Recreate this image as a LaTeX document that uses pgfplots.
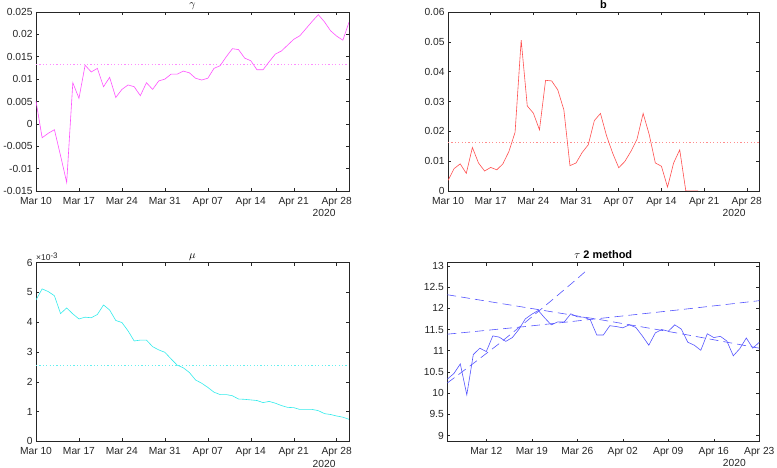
\documentclass[border=0pt]{standalone}
\usepackage{fontspec}
\setmainfont{Liberation Sans}
\usepackage{pgfplots}
\pgfplotsset{compat=1.18}

\definecolor{axgray}{gray}{0.15}
\definecolor{cmag}{RGB}{255,80,255}
\definecolor{cred}{RGB}{255,80,80}
\definecolor{ccyan}{RGB}{50,235,235}
\definecolor{cblue}{RGB}{85,85,255}

\pgfplotsset{
  mstyle/.style={
    scale only axis,
    anchor=south west,
    axis line style={axgray, line width=0.5bp},
    tick style={axgray, line width=0.5bp},
    major tick length=3bp,
    tick align=inside,
    ticklabel style={font=\fontsize{10.3}{12}\selectfont, text=axgray},
    xticklabel style={yshift=-2.5bp},
    /pgf/number format/assume math mode=true,
    scaled y ticks=false,
    scaled x ticks=false,
    every axis title shift=0pt,
    title style={at={(0.5,1)}, anchor=base, yshift=4bp, font=\fontsize{11}{13}\selectfont\bfseries, text=black},
    every axis plot/.append style={line width=0.6bp},
  },
  datex/.style={
    xmin=0, xmax=51,
    xtick={0,7,...,49},
    xticklabels={Mar 10,Mar 17,Mar 24,Mar 31,Apr 07,Apr 14,Apr 21,Apr 28},
  },
  yrlabel/.style={
    extra description/.code={
      \node[anchor=east, xshift=-10bp, yshift=-#1, font=\fontsize{10.3}{12}\selectfont, text=axgray] at (1,0) {2020};
    }
  },
  meandot/.style={line width=0.7bp, dash pattern=on 1.2bp off 2.2bp},
}

\begin{document}
\begin{tikzpicture}

% ---------------- gamma ----------------
\begin{axis}[mstyle, datex, yrlabel=22bp,
  at={(36bp,277bp)}, width=313bp, height=179bp,
  ymin=-0.015, ymax=0.025,
  ytick={-0.015,-0.01,-0.005,0,0.005,0.01,0.015,0.02,0.025},
  yticklabels={-0.015,-0.01,-0.005,0,0.005,0.01,0.015,0.02,0.025},
  title={\mdseries$\gamma$},
]
\addplot[cmag!65, meandot] coordinates {(0,0.0133) (51,0.0133)};
\addplot[cmag] coordinates {
(0,0.0051) (1,-0.0031) (2,-0.0021) (3,-0.0013) (4,-0.0071) (5,-0.0131)
(6,0.0092) (7,0.0057) (8,0.0131) (9,0.0116) (10,0.0124) (11,0.0083)
(12,0.0104) (13,0.0059) (14,0.0077) (15,0.0087) (16,0.0083) (17,0.0063)
(18,0.0092) (19,0.0077) (20,0.0096) (21,0.0100) (22,0.0111) (23,0.0111)
(24,0.0118) (25,0.0114) (26,0.0102) (27,0.0098) (28,0.0102) (29,0.0124)
(30,0.0130) (31,0.0150) (32,0.0168) (33,0.0166) (34,0.0147) (35,0.0141)
(36,0.0121) (37,0.0121) (38,0.0139) (39,0.0156) (40,0.0163) (41,0.0176)
(42,0.0189) (43,0.0197) (44,0.0213) (45,0.0229) (46,0.0244) (47,0.0228)
(48,0.0208) (49,0.0196) (50,0.0187) (51,0.0227)};
\end{axis}

% ---------------- b ----------------
\begin{axis}[mstyle, datex, yrlabel=22bp,
  at={(448bp,277bp)}, width=311bp, height=179bp,
  ymin=0, ymax=0.06,
  ytick={0,0.01,0.02,0.03,0.04,0.05,0.06},
  yticklabels={0,0.01,0.02,0.03,0.04,0.05,0.06},
  title={b},
]
\addplot[cred!65, meandot] coordinates {(0,0.0162) (51,0.0162)};
\addplot[cred] coordinates {
(0,0.0035) (1,0.0075) (2,0.0091) (3,0.0059) (4,0.0146) (5,0.0094)
(6,0.0067) (7,0.0079) (8,0.0071) (9,0.0091) (10,0.0133) (11,0.0197)
(12,0.0506) (13,0.0285) (14,0.0261) (15,0.0205) (16,0.0371) (17,0.0369)
(18,0.0339) (19,0.0272) (20,0.0085) (21,0.0094) (22,0.0129) (23,0.0155)
(24,0.0236) (25,0.0260) (26,0.0185) (27,0.0127) (28,0.0078) (29,0.0099)
(30,0.0133) (31,0.0174) (32,0.0260) (33,0.0189) (34,0.0094) (35,0.0083)
(36,0.0013) (37,0.0094) (38,0.0138) (39,0) (40,0) (41,0)};
\end{axis}

% ---------------- mu ----------------
\begin{axis}[mstyle, datex, yrlabel=22.5bp,
  at={(36bp,26.7bp)}, width=313bp, height=178.6bp,
  ymin=0, ymax=6,
  ytick={0,1,2,3,4,5,6},
  yticklabels={0,1,2,3,4,5,6},
  title={\mdseries$\mu$},
  extra description/.append code={
    \node[anchor=south west, inner sep=0pt, yshift=1.5bp, font=\fontsize{8.5}{10}\selectfont, text=axgray] at (0,1) {×10\textsuperscript{\fontsize{8}{9}\selectfont -3}};
  },
]
\addplot[ccyan!75, meandot] coordinates {(0,2.55) (51,2.55)};
\addplot[ccyan] coordinates {
(0,4.75) (1,5.12) (2,5.03) (3,4.89) (4,4.29) (5,4.48)
(6,4.28) (7,4.11) (8,4.17) (9,4.15) (10,4.26) (11,4.58)
(12,4.41) (13,4.06) (14,3.99) (15,3.71) (16,3.37) (17,3.40)
(18,3.40) (19,3.18) (20,3.07) (21,2.99) (22,2.77) (23,2.56)
(24,2.47) (25,2.31) (26,2.06) (27,1.95) (28,1.81) (29,1.65)
(30,1.57) (31,1.57) (32,1.53) (33,1.42) (34,1.41) (35,1.39)
(36,1.37) (37,1.30) (38,1.34) (39,1.28) (40,1.20) (41,1.14)
(42,1.13) (43,1.07) (44,1.07) (45,1.07) (46,1.03) (47,0.93)
(48,0.90) (49,0.85) (50,0.81) (51,0.74)};
\end{axis}

% ---------------- tau 2 method ----------------
\begin{axis}[mstyle, yrlabel=21bp,
  at={(447.3bp,26.5bp)}, width=312bp, height=179bp,
  xmin=0, xmax=48,
  xtick={6,13,20,27,34,41,48},
  xticklabels={Mar 12,Mar 19,Mar 26,Apr 02,Apr 09,Apr 16,Apr 23},
  ymin=8.86, ymax=13.08,
  ytick={9,9.5,10,10.5,11,11.5,12,12.5,13},
  yticklabels={9,9.5,10,10.5,11,11.5,12,12.5,13},
  title={$\tau$ 2 method},
]
\addplot[cblue] coordinates {
(0,10.33) (1,10.46) (2,10.69) (3,9.96) (4,10.91) (5,11.06) (6,10.98)
(7,11.35) (8,11.32) (9,11.22) (10,11.31) (11,11.50) (12,11.75) (13,11.86)
(14,11.95) (15,11.77) (16,11.61) (17,11.68) (18,11.68) (19,11.87) (20,11.80)
(21,11.79) (22,11.73) (23,11.37) (24,11.37) (25,11.59) (26,11.57) (27,11.54)
(28,11.61) (29,11.55) (30,11.35) (31,11.13) (32,11.42) (33,11.50) (34,11.46)
(35,11.61) (36,11.51) (37,11.20) (38,11.13) (39,11.01) (40,11.40) (41,11.31)
(42,11.34) (43,11.23) (44,10.88) (45,11.05) (46,11.30) (47,11.06) (48,11.20)};
\addplot[cblue, dash pattern=on 9bp off 5bp] coordinates {
(0,10.24) (4,10.70) (8,11.17) (12,11.67) (16,12.18) (20,12.70) (21.7,12.93)};
\addplot[cblue, dash pattern=on 9bp off 5bp] coordinates {
(0,12.32) (12,12.02) (24,11.72) (36,11.40) (48,11.06)};
\addplot[cblue, dash pattern=on 9bp off 5bp] coordinates {
(0,11.39) (12,11.57) (24,11.77) (36,11.97) (48,12.18)};
\end{axis}

\pgfresetboundingbox
\path (0,0) rectangle (777bp,468bp);
\end{tikzpicture}
\end{document}
